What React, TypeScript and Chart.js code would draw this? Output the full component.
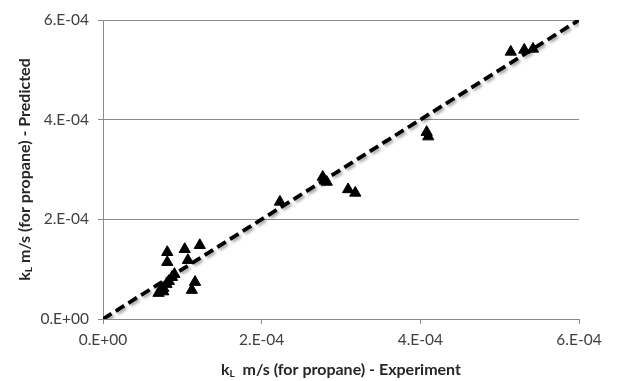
import { useEffect, useRef } from "react";
import { Chart, registerables } from "chart.js";

Chart.register(...registerables);

// Measured vs. predicted liquid-side mass transfer coefficient (m/s)
const experiment = [
  0.81e-4, 0.81e-4, 1.03e-4, 1.07e-4, 1.22e-4,
  0.70e-4, 0.73e-4, 0.76e-4, 0.80e-4, 0.83e-4, 0.87e-4, 0.90e-4, 0.76e-4,
  1.16e-4, 1.12e-4,
  2.23e-4, 2.77e-4, 2.82e-4, 3.09e-4, 3.18e-4,
  4.08e-4, 4.10e-4,
  5.14e-4, 5.31e-4, 5.42e-4,
];
const predicted = [
  1.34e-4, 1.14e-4, 1.40e-4, 1.18e-4, 1.48e-4,
  0.52e-4, 0.58e-4, 0.62e-4, 0.70e-4, 0.76e-4, 0.84e-4, 0.90e-4, 0.55e-4,
  0.74e-4, 0.58e-4,
  2.35e-4, 2.85e-4, 2.75e-4, 2.60e-4, 2.53e-4,
  3.75e-4, 3.66e-4,
  5.36e-4, 5.40e-4, 5.42e-4,
];

// y = x parity line
const parityX = [0, 6e-4];
const parityY = [0, 6e-4];

const tickValues = [0, 2e-4, 4e-4, 6e-4];
const tickLabels = ["0.E+00", "2.E-04", "4.E-04", "6.E-04"];

const xTitleParts = ["k", "L", "  m/s (for propane) - Experiment"];
const yTitleParts = ["k", "L", " m/s (for propane) - Predicted"];

const FONT = "Lato, 'Open Sans', sans-serif";
const GRID = "#8a8a8a";
const TEXT = "#404040";
const TITLE = "#262626";

function drawSubscriptTitle(
  ctx: CanvasRenderingContext2D,
  parts: string[],
  cx: number,
  cy: number,
  rotation: number
) {
  const mainFont = `bold 16px ${FONT}`;
  const subFont = `bold 10px ${FONT}`;
  ctx.save();
  ctx.translate(cx, cy);
  ctx.rotate(rotation);
  ctx.fillStyle = TITLE;
  ctx.textBaseline = "middle";
  ctx.textAlign = "left";
  ctx.font = mainFont;
  const w0 = ctx.measureText(parts[0]).width;
  const w2 = ctx.measureText(parts[2]).width;
  ctx.font = subFont;
  const w1 = ctx.measureText(parts[1]).width;
  let x = -(w0 + w1 + w2) / 2;
  ctx.font = mainFont;
  ctx.fillText(parts[0], x, 0);
  x += w0;
  ctx.font = subFont;
  ctx.fillText(parts[1], x, 4);
  x += w1;
  ctx.font = mainFont;
  ctx.fillText(parts[2], x, 0);
  ctx.restore();
}

const titlesPlugin = {
  id: "subscriptTitles",
  afterDraw(chart: any) {
    const { ctx, chartArea } = chart;
    const cx = (chartArea.left + chartArea.right) / 2;
    const cy = (chartArea.top + chartArea.bottom) / 2;
    drawSubscriptTitle(ctx, xTitleParts, cx, 370, 0);
    drawSubscriptTitle(ctx, yTitleParts, 25, cy, -Math.PI / 2);
  },
};

const lineShadowPlugin = {
  id: "lineShadow",
  beforeDatasetDraw(chart: any, args: any) {
    if (args.index !== 0) return;
    const ctx = chart.ctx;
    ctx.save();
    ctx.shadowColor = "rgba(0,0,0,0.35)";
    ctx.shadowBlur = 3;
    ctx.shadowOffsetX = 2;
    ctx.shadowOffsetY = 2;
  },
  afterDatasetDraw(chart: any, args: any) {
    if (args.index !== 0) return;
    chart.ctx.restore();
  },
};

export default function App() {
  const canvasRef = useRef<HTMLCanvasElement | null>(null);

  useEffect(() => {
    const canvas = canvasRef.current;
    if (!canvas) return;

    const chart = new Chart(canvas, {
      type: "scatter",
      data: {
        datasets: [
          {
            type: "line",
            label: "Parity",
            data: parityX.map((x, i) => ({ x, y: parityY[i] })),
            borderColor: "#000000",
            borderWidth: 3.8,
            borderDash: [10, 5],
            pointRadius: 0,
            fill: false,
          },
          {
            label: "kL",
            data: experiment.map((x, i) => ({ x, y: predicted[i] })),
            pointStyle: "triangle",
            pointRadius: 6.5,
            pointHoverRadius: 6.5,
            backgroundColor: "#000000",
            borderColor: "#000000",
            borderWidth: 1,
          },
        ],
      },
      options: {
        responsive: false,
        animation: false,
        devicePixelRatio: 1,
        layout: { padding: { left: 0, right: 61, top: 20, bottom: 0 } },
        plugins: {
          legend: { display: false },
          tooltip: { enabled: false },
        },
        scales: {
          x: {
            type: "linear",
            min: 0,
            max: 6e-4,
            afterBuildTicks: (s: any) => {
              s.ticks = tickValues.map((v) => ({ value: v }));
            },
            afterFit: (s: any) => {
              s.height = 62;
            },
            grid: {
              drawOnChartArea: false,
              drawTicks: true,
              tickLength: 5,
              color: GRID,
            },
            border: { display: true, color: GRID, width: 1 },
            ticks: {
              padding: 7,
              color: TEXT,
              font: { family: FONT, size: 15.5 },
              maxRotation: 0,
              callback: (_v: any, i: number) => tickLabels[i],
            },
          },
          y: {
            type: "linear",
            min: 0,
            max: 6e-4,
            afterBuildTicks: (s: any) => {
              s.ticks = tickValues.map((v) => ({ value: v }));
            },
            afterFit: (s: any) => {
              s.width = 103;
            },
            grid: {
              drawOnChartArea: true,
              drawTicks: true,
              tickLength: 5,
              color: GRID,
            },
            border: { display: true, color: GRID, width: 1 },
            ticks: {
              padding: 9,
              color: TEXT,
              font: { family: FONT, size: 15.5 },
              callback: (_v: any, i: number) => tickLabels[i],
            },
          },
        },
      },
      plugins: [lineShadowPlugin, titlesPlugin],
    });

    return () => chart.destroy();
  }, []);

  return (
    <div style={{ position: "absolute", left: 0, top: 0, width: 640, height: 381, background: "#ffffff" }}>
      <canvas ref={canvasRef} width={640} height={381} />
    </div>
  );
}
